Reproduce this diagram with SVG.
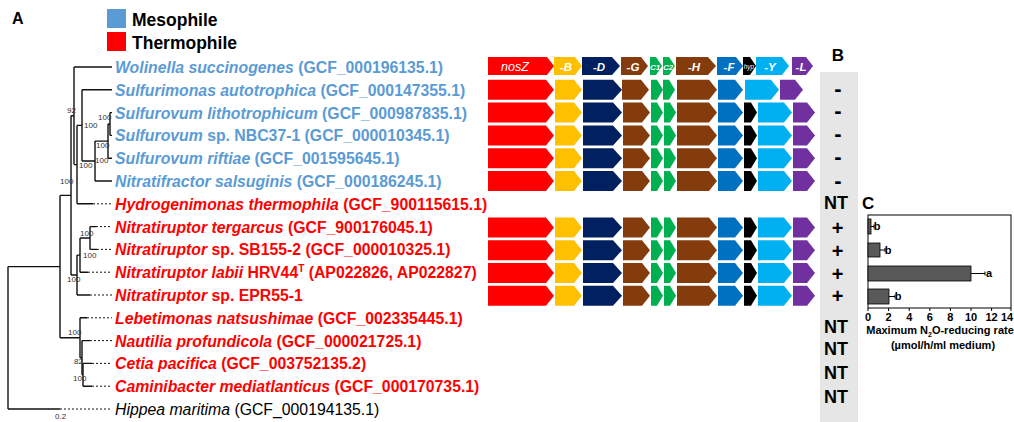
<svg xmlns="http://www.w3.org/2000/svg" width="1014" height="422" viewBox="0 0 1014 422">
<style>
.lbl{font-family:"Liberation Sans",Arial,sans-serif;font-size:15.8px;font-weight:bold}
.it{font-style:italic}
.meso{fill:#5B9BD5}
.thermo{fill:#FF0000}
.hip{fill:#000;font-weight:normal}
.br{stroke:#111;stroke-width:1.4;fill:none}
.dot{stroke:#111;stroke-width:1;stroke-dasharray:2,2;fill:none}
.bs{font-family:"Liberation Sans",Arial,sans-serif;font-size:8px;fill:#333}
.hd{font-family:"Liberation Sans",Arial,sans-serif;font-weight:bold;fill:#000}
.gl{font-family:"Liberation Sans",Arial,sans-serif;font-style:italic;fill:#fff;text-anchor:middle}
.sg{font-family:"Liberation Sans",Arial,sans-serif;font-weight:bold;fill:#000;text-anchor:middle}
.ax{font-family:"Liberation Sans",Arial,sans-serif;font-weight:bold;font-size:11px;fill:#000;text-anchor:middle}
.nosZ{fill:#FF0000}.B{fill:#FFC000}.D{fill:#002060}.G{fill:#843C0C}.C{fill:#00B050}.F{fill:#0070C0}.hyp{fill:#000}.Y{fill:#00B0F0}.L{fill:#7030A0}
</style>

<!-- Panel label and legend -->
<g id="panelA"><text class="hd" x="12" y="24" font-size="16">A</text></g>
<g id="legend">
<rect x="107" y="9" width="19" height="19" fill="#5B9BD5"/>
<text class="hd" x="132" y="26" font-size="17.5">Mesophile</text>
<rect x="107" y="32" width="19" height="19" fill="#FF0000"/>
<text class="hd" x="132" y="49" font-size="17.5">Thermophile</text>
</g>

<!-- Tree connectors -->
<g id="connectors">
<path class="br" d="M8,266.6 V409 M8,266.6 H60 M8,409 H60"/>
<path class="dot" d="M60,409 H112"/>
<path class="br" d="M60,195.4 V337.7 M60,195.4 H71 M60,337.7 H80"/>
<path class="br" d="M71,115.8 V275 M71,115.8 H74 M71,275 H77"/>
<path class="br" d="M74,67 V164.6 M74,67 H112 M74,164.6 H77"/>
<path class="br" d="M77,125.4 V203.8 M77,125.4 H82 M77,203.8 H93"/>
<path class="dot" d="M93,203.8 H112"/>
<path class="br" d="M82,89.8 V161 M82,89.8 H112 M82,161 H95"/>
<path class="br" d="M95,141.1 V181 M95,141.1 H108 M95,181 H112"/>
<path class="br" d="M108,124 V158.2 M108,124 H110 M108,158.2 H112"/>
<path class="br" d="M110,112.6 V135.4 M110,112.6 H112 M110,135.4 H112"/>
<path class="br" d="M77,255.1 V295 M77,255.1 H80 M77,295 H90"/>
<path class="dot" d="M90,295 H112"/>
<path class="br" d="M80,238 V272.2 M80,238 H90 M80,272.2 H88"/>
<path class="dot" d="M88,272.2 H112"/>
<path class="br" d="M90,226.6 V249.4 M90,226.6 H96 M90,249.4 H97"/>
<path class="dot" d="M96,226.6 H112 M97,249.4 H112"/>
<path class="br" d="M80,317.8 V357.7 M80,317.8 H87 M80,357.7 H82"/>
<path class="dot" d="M87,317.8 H112"/>
<path class="br" d="M82,340.6 V374.8 M82,340.6 H90 M82,374.8 H83"/>
<path class="dot" d="M90,340.6 H112"/>
<path class="br" d="M83,363.4 V386.2 M83,363.4 H92 M83,386.2 H92"/>
<path class="dot" d="M92,363.4 H112 M92,386.2 H112"/>
</g>

<!-- Bootstrap values -->
<g id="bootstrap">
<text class="bs" x="67" y="113">92</text>
<text class="bs" x="98" y="120">100</text>
<text class="bs" x="84" y="128">100</text>
<text class="bs" x="96" y="148">100</text>
<text class="bs" x="95" y="163">100</text>
<text class="bs" x="79" y="168">100</text>
<text class="bs" x="60" y="184">100</text>
<text class="bs" x="80" y="236">100</text>
<text class="bs" x="83" y="258">100</text>
<text class="bs" x="67" y="282">100</text>
<text class="bs" x="68" y="335">100</text>
<text class="bs" x="74" y="364">82</text>
<text class="bs" x="73" y="381">100</text>
<text class="bs" x="55" y="419">0.2</text>
</g>

<!-- Taxa -->
<g id="taxon-wolinella"><text class="lbl meso" x="115" y="73"><tspan class="it">Wolinella succinogenes</tspan> (GCF_000196135.1)</text></g>
<g id="taxon-sulfurimonas"><text class="lbl meso" x="115" y="95.8"><tspan class="it">Sulfurimonas autotrophica</tspan> (GCF_000147355.1)</text></g>
<g id="taxon-sulfurovum-lith"><text class="lbl meso" x="115" y="118.6"><tspan class="it">Sulfurovum lithotrophicum</tspan> (GCF_000987835.1)</text></g>
<g id="taxon-sulfurovum-nbc"><text class="lbl meso" x="115" y="141.4"><tspan class="it">Sulfurovum</tspan> sp. NBC37-1 (GCF_000010345.1)</text></g>
<g id="taxon-sulfurovum-rif"><text class="lbl meso" x="115" y="164.2"><tspan class="it">Sulfurovum riftiae</tspan> (GCF_001595645.1)</text></g>
<g id="taxon-nitratifractor"><text class="lbl meso" x="115" y="187"><tspan class="it">Nitratifractor salsuginis</tspan> (GCF_000186245.1)</text></g>
<g id="taxon-hydrogenimonas"><text class="lbl thermo" x="115" y="209.8"><tspan class="it">Hydrogenimonas thermophila</tspan> (GCF_900115615.1)</text></g>
<g id="taxon-nitratiruptor-terg"><text class="lbl thermo" x="115" y="232.6"><tspan class="it">Nitratiruptor tergarcus</tspan> (GCF_900176045.1)</text></g>
<g id="taxon-nitratiruptor-sb"><text class="lbl thermo" x="115" y="255.4"><tspan class="it">Nitratiruptor</tspan> sp. SB155-2 (GCF_000010325.1)</text></g>
<g id="taxon-nitratiruptor-labii"><text class="lbl thermo" x="115" y="278.2"><tspan class="it">Nitratiruptor labii</tspan> HRV44<tspan font-size="10" dy="-6">T</tspan><tspan dy="6"> (AP022826, AP022827)</tspan></text></g>
<g id="taxon-nitratiruptor-epr"><text class="lbl thermo" x="115" y="301"><tspan class="it">Nitratiruptor</tspan> sp. EPR55-1</text></g>
<g id="taxon-lebetimonas"><text class="lbl thermo" x="115" y="323.8"><tspan class="it">Lebetimonas natsushimae</tspan> (GCF_002335445.1)</text></g>
<g id="taxon-nautilia"><text class="lbl thermo" x="115" y="346.6"><tspan class="it">Nautilia profundicola</tspan> (GCF_000021725.1)</text></g>
<g id="taxon-cetia"><text class="lbl thermo" x="115" y="369.4"><tspan class="it">Cetia pacifica</tspan> (GCF_003752135.2)</text></g>
<g id="taxon-caminibacter"><text class="lbl thermo" x="115" y="392.2"><tspan class="it">Caminibacter mediatlanticus</tspan> (GCF_000170735.1)</text></g>
<g id="taxon-hippea"><text class="lbl hip" x="115" y="415"><tspan class="it">Hippea maritima</tspan> (GCF_000194135.1)</text></g>

<!-- Gene clusters -->
<g id="genes-header">
<polygon class="nosZ" points="488,57 547,57 554,66 547,75 488,75"/>
<polygon class="B" points="554,57 575,57 582,66 575,75 554,75"/>
<polygon class="D" points="582,57 612,57 620,66 612,75 582,75"/>
<polygon class="G" points="621,57 641,57 648,66 641,75 621,75"/>
<polygon class="C" points="650,57 656,57 662,66 656,75 650,75"/>
<polygon class="C" points="663,57 669,57 675,66 669,75 663,75"/>
<polygon class="G" points="676,57 708,57 716,66 708,75 676,75"/>
<polygon class="F" points="717,57 736,57 743,66 736,75 717,75"/>
<polygon class="hyp" points="743,57 750,57 756,66 750,75 743,75"/>
<polygon class="Y" points="756,57 782,57 789,66 782,75 756,75"/>
<polygon class="L" points="792,57 806,57 813,66 806,75 792,75"/>
<text class="gl" x="515" y="70.5" font-size="12.5">nosZ</text>
<text class="gl" x="566" y="70.5" font-size="11.5" font-weight="bold">-B</text>
<text class="gl" x="599" y="70.5" font-size="11.5" font-weight="bold">-D</text>
<text class="gl" x="633" y="70.5" font-size="11.5" font-weight="bold">-G</text>
<text class="gl" x="655" y="69.5" font-size="8" font-weight="bold">C1</text>
<text class="gl" x="668" y="69.5" font-size="8" font-weight="bold">C2</text>
<text class="gl" x="694" y="70.5" font-size="11.5" font-weight="bold">-H</text>
<text class="gl" x="729" y="70.5" font-size="11.5" font-weight="bold">-F</text>
<text class="gl" x="749" y="68.5" font-size="6.5">hyp</text>
<text class="gl" x="770" y="70.5" font-size="11.5" font-weight="bold">-Y</text>
<text class="gl" x="801" y="70.5" font-size="11.5" font-weight="bold">-L</text>
</g>

<g id="genes-sulfurimonas" transform="translate(0,89.8)">
<polygon class="nosZ" points="488,-10 546,-10 554,0 546,10 488,10"/>
<polygon class="B" points="555,-10 574,-10 582,0 574,10 555,10"/>
<polygon class="D" points="583,-10 613,-10 622,0 613,10 583,10"/>
<polygon class="G" points="622,-10 641,-10 649,0 641,10 622,10"/>
<polygon class="C" points="651,-10 657,-10 663,0 657,10 651,10"/>
<polygon class="C" points="663,-10 669,-10 675,0 669,10 663,10"/>
<polygon class="G" points="677,-10 709,-10 717,0 709,10 677,10"/>
<polygon class="F" points="718,-10 735,-10 743,0 735,10 718,10"/>
<polygon class="Y" points="745,-10 771,-10 779,0 771,10 745,10"/>
<polygon class="L" points="780,-10 795,-10 803,0 795,10 780,10"/>
</g>

<defs>
<g id="cluster">
<polygon class="nosZ" points="488,-10 546,-10 554,0 546,10 488,10"/>
<polygon class="B" points="555,-10 574,-10 582,0 574,10 555,10"/>
<polygon class="D" points="583,-10 613,-10 622,0 613,10 583,10"/>
<polygon class="G" points="623,-10 642,-10 650,0 642,10 623,10"/>
<polygon class="C" points="651,-10 657,-10 663,0 657,10 651,10"/>
<polygon class="C" points="664,-10 670,-10 676,0 670,10 664,10"/>
<polygon class="G" points="677,-10 709,-10 717,0 709,10 677,10"/>
<polygon class="F" points="718,-10 735,-10 743,0 735,10 718,10"/>
<polygon class="hyp" points="744,-10 751,-10 757,0 751,10 744,10"/>
<polygon class="Y" points="758,-10 784,-10 792,0 784,10 758,10"/>
<polygon class="L" points="793,-10 807,-10 815,0 807,10 793,10"/>
</g>
</defs>
<g id="genes-sulfurovum-lith"><use href="#cluster" y="112.6"/></g>
<g id="genes-sulfurovum-nbc"><use href="#cluster" y="135.4"/></g>
<g id="genes-sulfurovum-rif"><use href="#cluster" y="158.2"/></g>
<g id="genes-nitratifractor"><use href="#cluster" y="181"/></g>
<g id="genes-nitratiruptor-terg"><use href="#cluster" y="227.4"/></g>
<g id="genes-nitratiruptor-sb"><use href="#cluster" y="250.2"/></g>
<g id="genes-nitratiruptor-labii"><use href="#cluster" y="273"/></g>
<g id="genes-nitratiruptor-epr"><use href="#cluster" y="295.8"/></g>

<!-- Panel B -->
<g id="panelB">
<rect x="820" y="72" width="38" height="350" fill="#E6E6E6"/>
<text class="hd" x="838" y="61" font-size="17" text-anchor="middle">B</text>
<text class="sg" x="838" y="95.5" font-size="22">-</text>
<text class="sg" x="838" y="118.3" font-size="22">-</text>
<text class="sg" x="838" y="141.1" font-size="22">-</text>
<text class="sg" x="838" y="163.9" font-size="22">-</text>
<text class="sg" x="838" y="187.7" font-size="22">-</text>
<text class="sg" x="836" y="208.5" font-size="18">NT</text>
<text class="sg" x="837.5" y="235" font-size="20">+</text>
<text class="sg" x="837.5" y="257.8" font-size="20">+</text>
<text class="sg" x="837.5" y="280.6" font-size="20">+</text>
<text class="sg" x="837.5" y="303.4" font-size="20">+</text>
<text class="sg" x="836" y="332.5" font-size="18">NT</text>
<text class="sg" x="836" y="355" font-size="18">NT</text>
<text class="sg" x="836" y="378.5" font-size="18">NT</text>
<text class="sg" x="836" y="402.5" font-size="18">NT</text>
</g>

<!-- Panel C -->
<g id="panelC">
<text class="hd" x="862" y="208.5" font-size="17">C</text>
<rect x="868" y="215" width="143" height="93" fill="none" stroke="#000" stroke-width="1"/>
<g fill="#595959" stroke="#000" stroke-width="0.8">
<rect x="868" y="219" width="3" height="15"/>
<rect x="868" y="243" width="12" height="14"/>
<rect x="868" y="266" width="103" height="15"/>
<rect x="868" y="289" width="21" height="15"/>
</g>
<g stroke="#000" stroke-width="1" fill="none">
<path d="M871,226.5 H874 M874,224.5 V228.5"/>
<path d="M880,250 H885 M885,248 V252"/>
<path d="M971,273.5 H985 M985,271.5 V275.5"/>
<path d="M889,296.5 H895 M895,294.5 V298.5"/>
<path d="M868,308 V311 M888.6,308 V311 M909.2,308 V311 M929.8,308 V311 M950.4,308 V311 M971,308 V311 M991.6,308 V311 M1011,308 V311"/>
</g>
<text class="ax" x="877" y="230" text-anchor="start">b</text>
<text class="ax" x="888" y="253.5" text-anchor="start">b</text>
<text class="ax" x="989" y="277" text-anchor="start">a</text>
<text class="ax" x="898" y="300" text-anchor="start">b</text>
<text class="ax" x="868" y="321">0</text>
<text class="ax" x="888.6" y="321">2</text>
<text class="ax" x="909.2" y="321">4</text>
<text class="ax" x="929.8" y="321">6</text>
<text class="ax" x="950.4" y="321">8</text>
<text class="ax" x="971" y="321">10</text>
<text class="ax" x="991.6" y="321">12</text>
<text class="ax" x="1007" y="321">14</text>
<text class="ax" x="940" y="334" font-size="10.3">Maximum N<tspan font-size="7" dy="2.5">2</tspan><tspan dy="-2.5">O-reducing rate</tspan></text>
<text class="ax" x="943" y="348.5" font-size="10.8">(µmol/h/ml medium)</text>
</g>
</svg>
